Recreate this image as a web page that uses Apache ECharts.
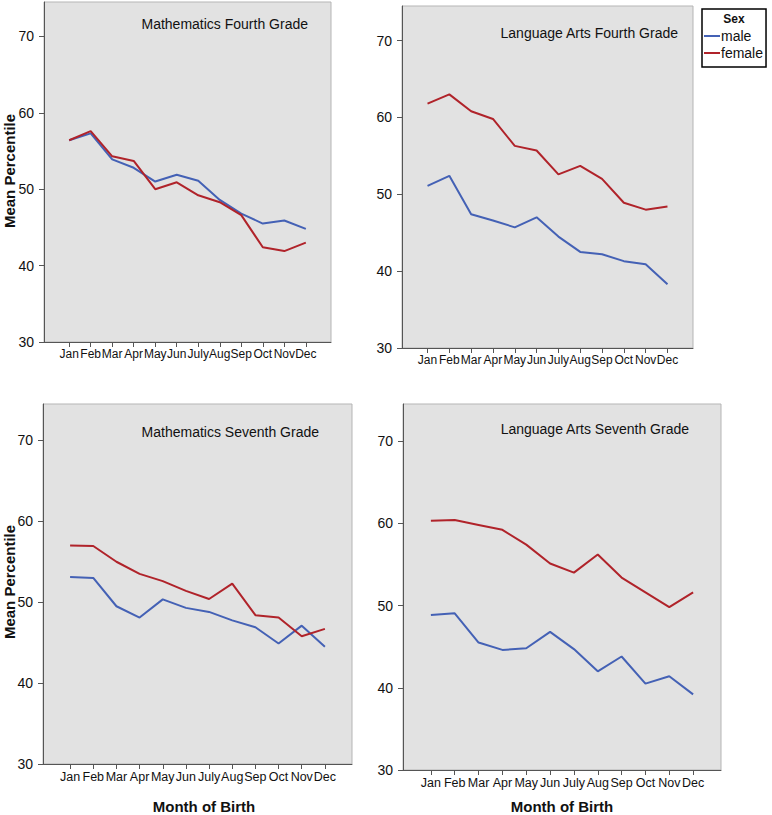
<!DOCTYPE html>
<html>
<head>
<meta charset="utf-8">
<script src="https://cdn.jsdelivr.net/npm/echarts@6/dist/echarts.min.js"></script>
<style>
html,body{margin:0;padding:0;background:#fff;}
#chart{width:772px;height:815px;}
</style>
</head>
<body>
<div id="chart"></div>
<script>
const months = ['Jan','Feb','Mar','Apr','May','Jun','July','Aug','Sep','Oct','Nov','Dec'];
const yTicks = [30, 40, 50, 60, 70];
const panelTitles = ['Mathematics Fourth Grade','Language Arts Fourth Grade','Mathematics Seventh Grade','Language Arts Seventh Grade'];
const seriesNames = ['male', 'female'];

const math4Male   = [56.4, 57.3, 53.9, 52.8, 51.0, 51.9, 51.1, 48.6, 46.8, 45.5, 45.9, 44.8];
const math4Female = [56.4, 57.6, 54.3, 53.7, 50.0, 50.9, 49.2, 48.3, 46.6, 42.4, 41.9, 43.0];
const lang4Male   = [51.1, 52.4, 47.4, 46.6, 45.7, 47.0, 44.5, 42.5, 42.2, 41.3, 40.9, 38.3];
const lang4Female = [61.8, 63.0, 60.8, 59.8, 56.3, 55.7, 52.6, 53.7, 52.0, 48.9, 48.0, 48.4];
const math7Male   = [53.1, 53.0, 49.5, 48.1, 50.35, 49.3, 48.8, 47.75, 46.9, 44.9, 47.1, 44.5];
const math7Female = [57.0, 56.95, 55.0, 53.5, 52.6, 51.4, 50.4, 52.3, 48.4, 48.1, 45.8, 46.7];
const lang7Male   = [48.85, 49.05, 45.5, 44.6, 44.8, 46.8, 44.7, 42.0, 43.8, 40.5, 41.4, 39.2];
const lang7Female = [60.3, 60.4, 59.8, 59.2, 57.4, 55.1, 54.0, 56.2, 53.4, 51.6, 49.8, 51.6];

const panelData = [
  [math4Male, math4Female],
  [lang4Male, lang4Female],
  [math7Male, math7Female],
  [lang7Male, lang7Female]
];

const colors = { male: '#4461b5', female: '#b0232a' };
const grids = [
  { left: 44, top: 2, width: 287, height: 340 },
  { left: 402, top: 6, width: 291, height: 342 },
  { left: 43, top: 404, width: 309, height: 360 },
  { left: 403, top: 404, width: 318, height: 366 }
];
const titlePos = [[308, 24], [678, 33], [319, 432], [689, 429]];
const monthFontSize = [12, 12, 12.5, 12.5];

const monthIdx = months.map((m, i) => i);
const axisColor = '#555';

const option = {
  animation: false,
  backgroundColor: '#fff',
  grid: grids.map(g => Object.assign({
    show: true, backgroundColor: '#e2e2e2', borderColor: '#b5b5b5', borderWidth: 1
  }, g)),
  xAxis: grids.map((g, k) => ({
    type: 'value', gridIndex: k, min: -1.17, max: 12.17,
    splitLine: { show: false },
    axisLine: { show: true, onZero: false, lineStyle: { color: axisColor, width: 1 } },
    axisTick: { show: true, length: 5, customValues: monthIdx, lineStyle: { color: axisColor } },
    axisLabel: {
      customValues: monthIdx, margin: 6,
      hideOverlap: false, showMinLabel: true, showMaxLabel: true,
      formatter: v => months[Math.round(v)],
      fontFamily: '"Liberation Sans", Arial, sans-serif',
      fontSize: monthFontSize[k], color: '#111'
    }
  })),
  yAxis: grids.map((g, k) => ({
    type: 'value', gridIndex: k, min: 30, max: 74.5,
    splitLine: { show: false },
    axisLine: { show: true, onZero: false, lineStyle: { color: axisColor, width: 1 } },
    axisTick: { show: true, length: 5, customValues: yTicks, lineStyle: { color: axisColor } },
    axisLabel: {
      customValues: yTicks, margin: 10,
      hideOverlap: false, showMinLabel: true, showMaxLabel: true,
      fontFamily: '"Liberation Sans", Arial, sans-serif', fontSize: 14, color: '#111'
    }
  })),
  legend: {
    left: 702, top: 9, orient: 'vertical',
    data: seriesNames,
    icon: 'rect', itemWidth: 16, itemHeight: 2, itemGap: 3,
    padding: [20, 3, 7, 2],
    borderColor: '#000', borderWidth: 1.5, backgroundColor: '#fff',
    selectedMode: false,
    textStyle: { fontFamily: '"Liberation Sans", Arial, sans-serif', fontSize: 14, color: '#111', padding: [0, 0, 0, -4] }
  },
  series: [],
  graphic: []
};

panelData.forEach((pair, k) => {
  pair.forEach((vals, s) => {
    const name = seriesNames[s];
    option.series.push({
      type: 'line', name: name, xAxisIndex: k, yAxisIndex: k,
      data: vals.map((v, i) => [i, v]),
      symbol: 'none', color: colors[name],
      lineStyle: { width: 2, color: colors[name] }
    });
  });
});

const textStyleBase = { fontFamily: '"Liberation Sans", Arial, sans-serif', fill: '#111' };
function txt(text, x, y, size, weight, align, rotation) {
  return {
    type: 'text', x: x, y: y, rotation: rotation || 0, z: 100,
    style: Object.assign({}, textStyleBase, {
      text: text, fontSize: size, fontWeight: weight,
      align: align, textAlign: align, verticalAlign: 'middle', textVerticalAlign: 'middle'
    })
  };
}
panelTitles.forEach((t, k) => {
  option.graphic.push(txt(t, titlePos[k][0], titlePos[k][1], 14, 'normal', 'right'));
});
option.graphic.push(txt('Mean Percentile', 9, 171, 15, 'bold', 'center', Math.PI / 2));
option.graphic.push(txt('Mean Percentile', 9, 582, 15, 'bold', 'center', Math.PI / 2));
option.graphic.push(txt('Month of Birth', 204, 806, 15, 'bold', 'center'));
option.graphic.push(txt('Month of Birth', 562, 806, 15, 'bold', 'center'));
option.graphic.push(txt('Sex', 734, 19, 12, 'bold', 'center'));

const chart = echarts.init(document.getElementById('chart'), null, { renderer: 'svg' });
chart.setOption(option);
</script>
</body>
</html>
